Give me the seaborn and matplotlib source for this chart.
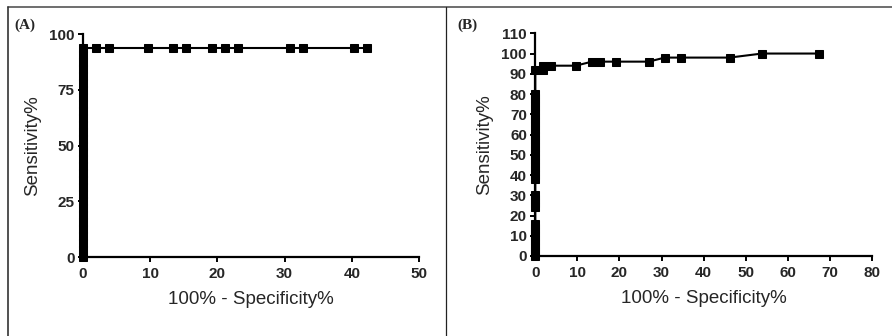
import numpy as np
import pandas as pd
import matplotlib
matplotlib.use("Agg")
import matplotlib.pyplot as plt
from matplotlib.lines import Line2D
import seaborn as sns

# Panel A data (100% - Specificity%, Sensitivity%)
a_vert = [0, 3.1, 6.25, 9.4, 12.5, 15.6, 18.75, 21.9, 25, 28.1, 31.25, 34.4,
          37.5, 40.6, 43.75, 46.9, 50, 53.1, 56.25, 59.4, 62.5, 65.6, 68.75,
          71.9, 75, 78.1, 81.25, 84.4, 87.5, 90.6, 93.75]
a_fpr = [0.0] * len(a_vert) + [1.92, 3.85, 9.62, 13.46, 15.38, 19.23, 21.15,
                               23.08, 30.77, 32.69, 40.38, 42.31]
a_sens = a_vert + [93.75] * 12

# Panel B data
b_vert = [0, 2, 4, 6, 8, 10, 12, 14, 16, 24, 26, 28, 30,
          38, 40, 42, 44, 46, 48, 50, 52, 54, 56, 58, 60, 62, 64, 66, 68,
          70, 72, 74, 76, 78, 80]
b_fpr = [0.0] * len(b_vert) + [0.0, 1.92, 1.92, 3.85, 9.62, 13.46, 15.38,
                               19.23, 26.92, 30.77, 34.62, 46.15, 53.85, 67.31]
b_sens = b_vert + [92, 92, 94, 94, 94, 96, 96, 96, 96, 98, 98, 98, 100, 100]

a_xticks = [0, 10, 20, 30, 40, 50]
a_yticks = [0, 25, 50, 75, 100]
b_xticks = [0, 10, 20, 30, 40, 50, 60, 70, 80]
b_yticks = list(range(0, 111, 10))

sns.set_style("ticks")
plt.rcParams['font.family'] = ['Liberation Sans', 'DejaVu Sans']

fig = plt.figure(figsize=(8.92, 3.36), dpi=100)
axA = fig.add_axes([0.0930, 0.2351, 0.4697 - 0.0930, 0.8988 - 0.2351])
axB = fig.add_axes([0.6001, 0.2381, 0.9776 - 0.6001, 0.9009 - 0.2381])

dfA = pd.DataFrame({"x": a_fpr, "y": a_sens})
dfB = pd.DataFrame({"x": b_fpr, "y": b_sens})

for ax, df, xt, yt in [(axA, dfA, a_xticks, a_yticks), (axB, dfB, b_xticks, b_yticks)]:
    sns.lineplot(data=df, x="x", y="y", ax=ax, sort=False, estimator=None,
                 color="black", linewidth=1.5, marker="s", markersize=6,
                 markeredgecolor="black", markerfacecolor="black")
    for ln in ax.lines:
        ln.set_clip_on(False)
    ax.set_xlim(xt[0], xt[-1])
    ax.set_ylim(yt[0], yt[-1])
    ax.set_xticks(xt)
    ax.set_yticks(yt)
    sns.despine(ax=ax)
    for s in ["left", "bottom"]:
        ax.spines[s].set_linewidth(1.6)
        ax.spines[s].set_color("black")
    ax.tick_params(axis="both", length=3.5, width=1.4, color="black",
                   labelsize=11)
    ax.tick_params(axis="x", pad=4)
    ax.tick_params(axis="y", pad=2.5)
    for lbl in ax.get_xticklabels() + ax.get_yticklabels():
        lbl.set_fontweight("bold")
    ax.set_xlabel("100% - Specificity%", fontsize=13.5, labelpad=7)
    ax.set_ylabel("Sensitivity%", fontsize=13.5, labelpad=6)

# panel frames
fig.add_artist(Line2D([0.0095, 1.0], [0.978, 0.978], transform=fig.transFigure,
                      color="#555555", linewidth=1.2))
fig.add_artist(Line2D([0.0095, 0.0095], [0.0, 0.978], transform=fig.transFigure,
                      color="#333333", linewidth=1.2))
fig.add_artist(Line2D([0.5, 0.5], [0.0, 0.978], transform=fig.transFigure,
                      color="#222222", linewidth=0.9))

fig.text(0.016, 0.926, "(A)", fontsize=11, fontweight="bold",
         family=["Liberation Serif", "DejaVu Serif"], va="center", ha="left")
fig.text(0.513, 0.926, "(B)", fontsize=11, fontweight="bold",
         family=["Liberation Serif", "DejaVu Serif"], va="center", ha="left")

fig.savefig("out.png", dpi=100)
